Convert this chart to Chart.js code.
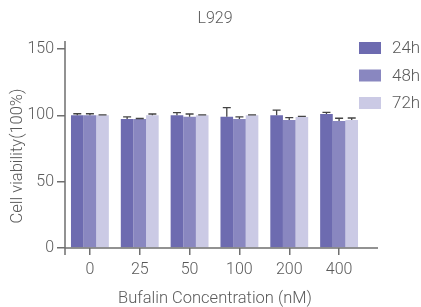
<!DOCTYPE html>
<html>
<head>
<meta charset="utf-8">
<script src="https://cdn.jsdelivr.net/npm/chart.js@4"></script>
<style>
  html, body { margin: 0; padding: 0; background: #fff; }
  #wrap { width: 421px; height: 307px; position: relative; }
</style>
</head>
<body>
<div id="wrap"><canvas id="c"></canvas></div>
<script>
// L929 cell viability vs bufalin concentration
const concentrations = ['0', '25', '50', '100', '200', '400'];
const seriesLabels = ['24h', '48h', '72h'];
const viability24h = [100, 97.3, 100, 99, 100, 101];
const viability48h = [100, 97.3, 99, 97.3, 96.5, 95.8];
const viability72h = [100, 100, 100, 100, 98.8, 96.5];
const error24h = [1.2, 1.5, 2.0, 6.8, 4.0, 1.2];
const error48h = [1.2, 0.3, 2.0, 1.5, 1.8, 2.0];
const error72h = [0.3, 1.0, 0.3, 0.3, 0.4, 1.5];
const yTicks = [0, 50, 100, 150];

const colors = ['#6d6bb0', '#8987c0', '#cbcae5'];
const FONT = "Roboto, 'Noto Sans', sans-serif";
const TEXT = '#5a5a5a';
const AXIS = '#6f6f6f';

const values = [viability24h, viability48h, viability72h];
const errors = [error24h, error48h, error72h];

// upper error bars, axis lines, titles and legend
const extras = {
  id: 'extras',
  afterDatasetsDraw(chart) {
    const { ctx, chartArea, scales } = chart;
    const y = scales.y;
    ctx.save();
    ctx.strokeStyle = '#444';
    ctx.lineWidth = 1.3;
    chart.data.datasets.forEach((ds, i) => {
      const meta = chart.getDatasetMeta(i);
      meta.data.forEach((bar, j) => {
        const top = y.getPixelForValue(ds.data[j]);
        const end = y.getPixelForValue(ds.data[j] + errors[i][j]);
        ctx.beginPath();
        ctx.moveTo(bar.x, top);
        ctx.lineTo(bar.x, end);
        ctx.moveTo(bar.x - 4, end);
        ctx.lineTo(bar.x + 4, end);
        ctx.stroke();
      });
    });

    // axis lines (Prism style, y axis runs past the x axis)
    ctx.strokeStyle = AXIS;
    ctx.lineWidth = 1.5;
    ctx.beginPath();
    ctx.moveTo(chartArea.left, chartArea.top - 8);
    ctx.lineTo(chartArea.left, chartArea.bottom + 7);
    ctx.moveTo(chartArea.left, chartArea.bottom);
    ctx.lineTo(378, chartArea.bottom);
    ctx.stroke();

    ctx.fillStyle = TEXT;
    ctx.textAlign = 'center';
    ctx.textBaseline = 'middle';

    // title
    ctx.font = `300 16px ${FONT}`;
    ctx.fillText('L929', 215, 19);

    // axis titles
    ctx.font = `300 16.5px ${FONT}`;
    ctx.fillText('Bufalin Concentration (nM)', 215, 299);
    ctx.save();
    ctx.translate(18, 156);
    ctx.rotate(-Math.PI / 2);
    ctx.fillText('Cell viability(100%)', 0, 0);
    ctx.restore();

    // legend
    ctx.font = `300 17px ${FONT}`;
    ctx.textAlign = 'left';
    seriesLabels.forEach((lab, i) => {
      const ly = 48 + i * 27.5;
      ctx.fillStyle = colors[i];
      ctx.fillRect(359, ly - 6, 22, 12);
      ctx.fillStyle = TEXT;
      ctx.fillText(lab, 392, ly + 1);
    });
    ctx.restore();
  }
};

new Chart(document.getElementById('c'), {
  type: 'bar',
  data: {
    labels: concentrations,
    datasets: seriesLabels.map((lab, i) => ({
      label: lab,
      data: values[i],
      backgroundColor: colors[i],
      borderWidth: 0,
      categoryPercentage: 0.76,
      barPercentage: 1.0,
    })),
  },
  options: {
    responsive: true,
    maintainAspectRatio: false,
    animation: false,
    layout: { padding: { top: 49, right: 57, left: 0, bottom: 0 } },
    plugins: {
      legend: { display: false },
      tooltip: { enabled: false },
    },
    scales: {
      x: {
        offset: true,
        grid: { offset: false, drawOnChartArea: false, drawTicks: true, tickLength: 7, color: AXIS, lineWidth: 1.5 },
        border: { display: false },
        ticks: { color: TEXT, font: { family: FONT, size: 16, weight: '300' }, padding: 5 },
        afterFit: (s) => { s.height = 59; },
      },
      y: {
        min: 0,
        max: 150,
        afterBuildTicks: (s) => { s.ticks = yTicks.map(v => ({ value: v })); },
        grid: { drawOnChartArea: false, drawTicks: true, tickLength: 8, color: AXIS, lineWidth: 1.5 },
        border: { display: false },
        ticks: { color: TEXT, font: { family: FONT, size: 16, weight: '300' }, padding: 3 },
        afterFit: (s) => { s.width = 65; },
      },
    },
  },
  plugins: [extras],
});
</script>
</body>
</html>
